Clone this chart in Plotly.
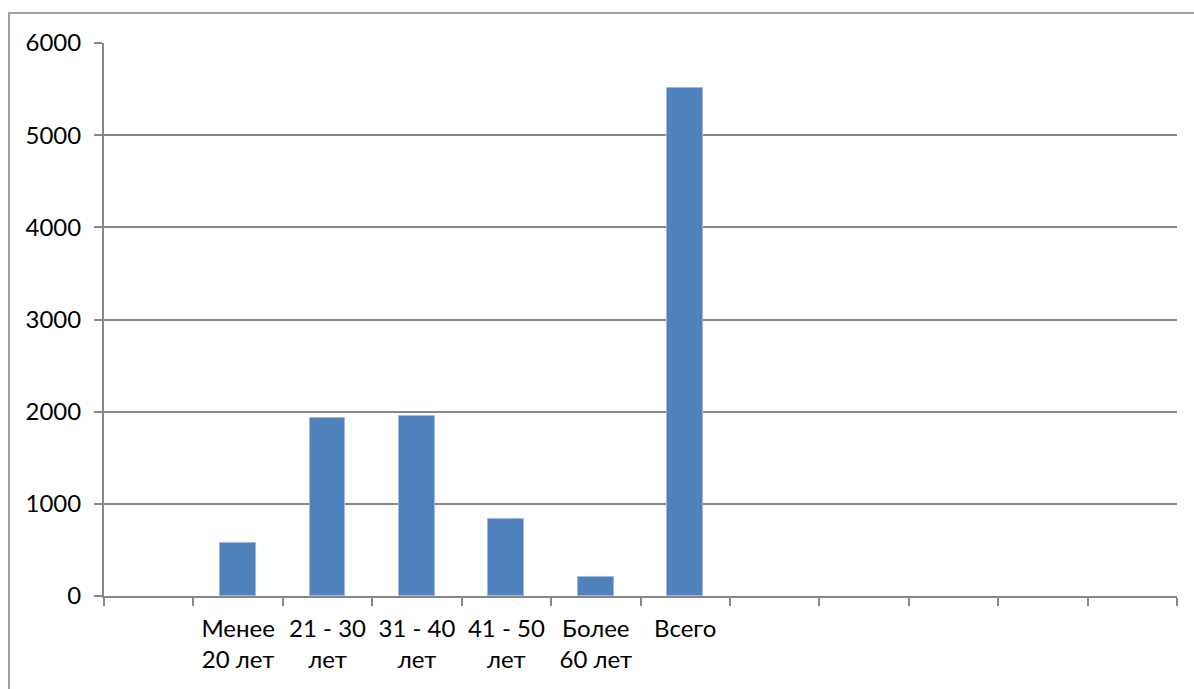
import plotly.graph_objects as go

# Age groups along the category axis (empty slots keep the 12-slot layout)
categories = ["", "Менее<br>20 лет", "21 - 30<br>лет", "31 - 40<br>лет", "41 - 50<br>лет",
              "Более<br>60 лет", "Всего", "", "", "", "", ""]
values = [None, 580, 1935, 1950, 835, 205, 5510, None, None, None, None, None]
y_ticks = [0, 1000, 2000, 3000, 4000, 5000, 6000]

positions = list(range(len(categories)))
grey = "#878787"
font = dict(family="Lato, Open Sans, sans-serif", size=24, color="#000000")

fig = go.Figure(
    go.Bar(
        x=positions,
        y=values,
        width=0.4,
        marker=dict(color="#4f81bd", line=dict(color="#9fb9dc", width=1)),
        hoverinfo="skip",
    )
)

fig.update_layout(
    width=1194,
    height=689,
    margin=dict(l=104, r=17, t=43, b=93),
    paper_bgcolor="white",
    plot_bgcolor="white",
    showlegend=False,
    font=font,
    bargap=0,
)

fig.update_xaxes(
    range=[-0.5, len(categories) - 0.5],
    tickvals=positions,
    ticktext=categories,
    ticks="",
    showgrid=False,
    zeroline=False,
    showline=True,
    linecolor=grey,
    linewidth=2,
    ticklabelstandoff=10,
    minor=dict(ticks="outside", ticklen=8, tickwidth=2, tickcolor=grey,
               tick0=-0.5, dtick=1, showgrid=False),
    fixedrange=True,
)

fig.update_yaxes(
    range=[0, 6000],
    tickvals=y_ticks,
    ticktext=[str(v) for v in y_ticks],
    ticks="outside",
    ticklen=8,
    tickwidth=2,
    tickcolor=grey,
    showgrid=True,
    gridcolor=grey,
    gridwidth=1.5,
    zeroline=False,
    showline=True,
    linecolor=grey,
    linewidth=2,
    ticklabelstandoff=8,
    fixedrange=True,
)

# Chart-area frame around the whole plot
fig.add_shape(
    type="rect", xref="paper", yref="paper",
    x0=(9 - 104) / 1073, x1=1.05, y0=-0.3, y1=(596 - 13) / 553,
    line=dict(color="#a0a0a0", width=2), layer="below",
)

fig.write_html("out.html")
